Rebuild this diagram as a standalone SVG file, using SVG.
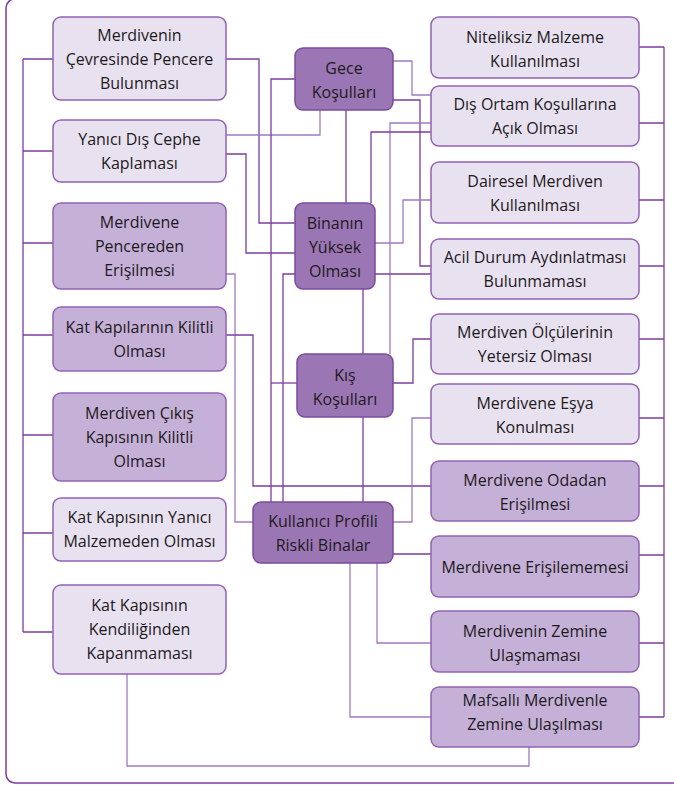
<svg xmlns="http://www.w3.org/2000/svg" width="674" height="786" viewBox="0 0 674 786">
<style>
.frame{fill:none;stroke:#7d3c9e;stroke-width:1.5}
.c{fill:none;stroke:#7d3c9e;stroke-width:1.3}
.cl{fill:none;stroke:#a07ac0;stroke-width:1.3}
.lt{fill:#e8e1f0;stroke:#9262b4;stroke-width:1.5}
.md{fill:#c5b0d8;stroke:#9262b4;stroke-width:1.5}
.dk{fill:#9b76b4;stroke:#7d4a9e;stroke-width:1.5}
text{font-family:"Open Sans","Noto Sans",sans-serif;font-size:16px;fill:#1e1a1c;text-anchor:middle}
</style>
<rect class="frame" x="6" y="-1" width="720" height="784" rx="9"/>
<g id="connectors">
<path class="c" d="M23,59 V632 M23,59 H53 M23,151 H53 M23,243 H53 M23,335 H53 M23,435 H53 M23,533 H53 M23,632 H53"/>
<path class="c" d="M664,47 V717 M639,47 H664 M639,123 H664 M639,200 H664 M639,266 H664 M639,339 H664 M639,418 H664 M639,486 H664 M639,555 H664 M639,643 H664 M639,717 H664"/>
<path class="c" d="M226,59 H259 V223 H295"/>
<path class="cl" d="M226,135 H320 V110"/>
<path class="c" d="M226,154 H246 V253 H295"/>
<path class="c" d="M295,79 H271 V502"/>
<path class="c" d="M297,383 H271"/>
<path class="c" d="M295,274 H283 V502"/>
<path class="cl" d="M226,274 H235 V522 H253"/>
<path class="c" d="M226,335 H253 V486 H431"/>
<path class="cl" d="M393,522 H412 V418 H431"/>
<path class="c" d="M393,554 H431"/>
<path class="cl" d="M350,563 V717 H431"/>
<path class="cl" d="M377,563 V643 H431"/>
<path class="cl" d="M127,674 V766 H529 V747"/>
<path class="cl" d="M393,61 H412 V95 H431"/>
<path class="c" d="M393,100 H420 V266 H431"/>
<path class="cl" d="M431,123 H390 V354"/>
<path class="c" d="M431,132 H371 V203"/>
<path class="c" d="M346,110 V203"/>
<path class="cl" d="M375,243 H403 V200 H431"/>
<path class="c" d="M375,274 H431"/>
<path class="c" d="M393,383 H413 V339 H431"/>
<path class="c" d="M363,289 V354"/>
<path class="c" d="M363,417 V502"/>
</g>
<g id="L1"><rect class="lt" x="53" y="17" width="173" height="83" rx="8"/><text x="139.5" y="41">Merdivenin</text><text x="139.5" y="65">Çevresinde Pencere</text><text x="139.5" y="89">Bulunması</text></g>
<g id="L2"><rect class="lt" x="53" y="120" width="173" height="62" rx="8"/><text x="139.5" y="145">Yanıcı Dış Cephe</text><text x="139.5" y="169">Kaplaması</text></g>
<g id="L3"><rect class="md" x="53" y="203" width="173" height="86" rx="8"/><text x="139.5" y="228">Merdivene</text><text x="139.5" y="252">Pencereden</text><text x="139.5" y="276">Erişilmesi</text></g>
<g id="L4"><rect class="md" x="53" y="307" width="173" height="64" rx="8"/><text x="139.5" y="333">Kat Kapılarının Kilitli</text><text x="139.5" y="357">Olması</text></g>
<g id="L5"><rect class="md" x="53" y="393" width="173" height="88" rx="8"/><text x="139.5" y="419">Merdiven Çıkış</text><text x="139.5" y="443">Kapısının Kilitli</text><text x="139.5" y="467">Olması</text></g>
<g id="L6"><rect class="lt" x="53" y="498" width="173" height="63" rx="8"/><text x="139.5" y="523">Kat Kapısının Yanıcı</text><text x="139.5" y="547">Malzemeden Olması</text></g>
<g id="L7"><rect class="lt" x="53" y="585" width="173" height="89" rx="8"/><text x="139.5" y="611">Kat Kapısının</text><text x="139.5" y="635">Kendiliğinden</text><text x="139.5" y="659">Kapanmaması</text></g>
<g id="R1"><rect class="lt" x="431" y="17" width="208" height="61" rx="8"/><text x="535" y="43">Niteliksiz Malzeme</text><text x="535" y="67">Kullanılması</text></g>
<g id="R2"><rect class="lt" x="431" y="86" width="208" height="60" rx="8"/><text x="535" y="110">Dış Ortam Koşullarına</text><text x="535" y="134">Açık Olması</text></g>
<g id="R3"><rect class="lt" x="431" y="162" width="208" height="61" rx="8"/><text x="535" y="187">Dairesel Merdiven</text><text x="535" y="211">Kullanılması</text></g>
<g id="R4"><rect class="lt" x="431" y="239" width="208" height="60" rx="8"/><text x="535" y="263">Acil Durum Aydınlatması</text><text x="535" y="287">Bulunmaması</text></g>
<g id="R5"><rect class="lt" x="431" y="314" width="208" height="60" rx="8"/><text x="535" y="338">Merdiven Ölçülerinin</text><text x="535" y="362">Yetersiz Olması</text></g>
<g id="R6"><rect class="lt" x="431" y="384" width="208" height="60" rx="8"/><text x="535" y="409">Merdivene Eşya</text><text x="535" y="433">Konulması</text></g>
<g id="R7"><rect class="md" x="431" y="461" width="208" height="60" rx="8"/><text x="535" y="486">Merdivene Odadan</text><text x="535" y="510">Erişilmesi</text></g>
<g id="R8"><rect class="md" x="431" y="536" width="208" height="61" rx="8"/><text x="535" y="573">Merdivene Erişilememesi</text></g>
<g id="R9"><rect class="md" x="431" y="611" width="208" height="61" rx="8"/><text x="535" y="637">Merdivenin Zemine</text><text x="535" y="661">Ulaşmaması</text></g>
<g id="R10"><rect class="md" x="431" y="687" width="208" height="60" rx="8"/><text x="535" y="706">Mafsallı Merdivenle</text><text x="535" y="730">Zemine Ulaşılması</text></g>
<g id="gece"><rect class="dk" x="295" y="48" width="98" height="62" rx="8"/><text x="344" y="74">Gece</text><text x="344" y="98">Koşulları</text></g>
<g id="binanin"><rect class="dk" x="295" y="203" width="80" height="86" rx="8"/><text x="335" y="229">Binanın</text><text x="335" y="253">Yüksek</text><text x="335" y="277">Olması</text></g>
<g id="kis"><rect class="dk" x="297" y="354" width="96" height="63" rx="8"/><text x="345" y="381">Kış</text><text x="345" y="405">Koşulları</text></g>
<g id="kullanici"><rect class="dk" x="253" y="502" width="140" height="61" rx="8"/><text x="323" y="527">Kullanıcı Profili</text><text x="323" y="551">Riskli Binalar</text></g>
</svg>
